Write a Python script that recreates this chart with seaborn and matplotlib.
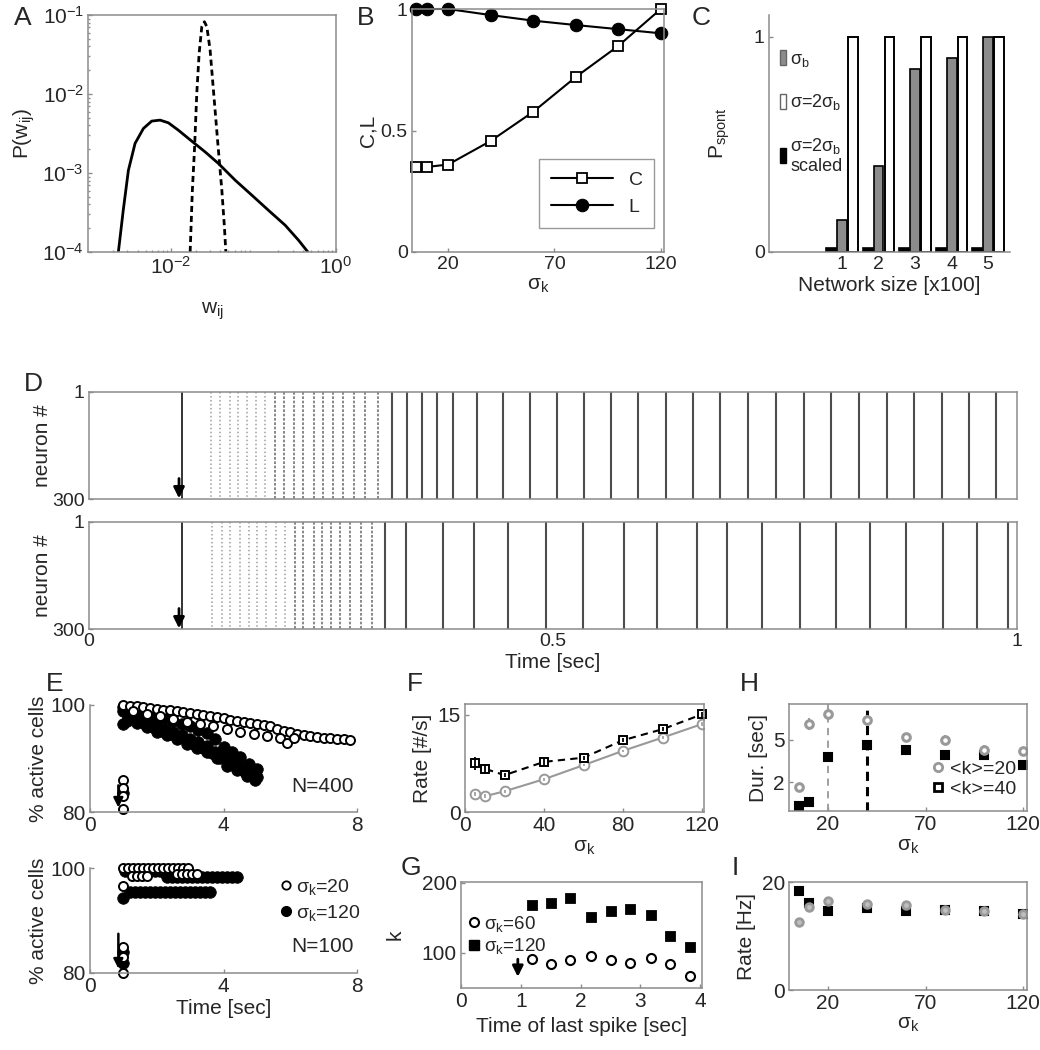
import matplotlib
matplotlib.use('Agg')
import matplotlib.pyplot as plt
import seaborn as sns
from matplotlib.patches import Patch
from matplotlib.lines import Line2D

sns.set_style('white')
plt.rcParams['font.family'] = ['Liberation Sans', 'DejaVu Sans']
plt.rcParams['mathtext.fontset'] = 'custom'
plt.rcParams['mathtext.rm'] = 'Liberation Sans'
plt.rcParams['mathtext.it'] = 'Liberation Sans:italic'
plt.rcParams['mathtext.default'] = 'regular'
plt.rcParams['axes.labelsize'] = 15

# ---- data ----
# A: weight distributions
a_solid_w = [2.33e-3, 2.67e-3, 3.08e-3, 3.71e-3, 4.68e-3, 5.90e-3, 7.45e-3, 9.38e-3, 1.24e-2,
             1.80e-2, 2.61e-2, 3.78e-2, 6.03e-2, 9.59e-2, 0.152, 0.243, 0.352, 0.457]
a_solid_p = [1.0e-4, 3.38e-4, 1.08e-3, 2.37e-3, 3.66e-3, 4.54e-3, 4.67e-3, 4.32e-3, 3.48e-3,
             2.53e-3, 1.85e-3, 1.32e-3, 8.11e-4, 5.24e-4, 3.38e-4, 2.18e-4, 1.41e-4, 1.0e-4]
a_dash_w = [0.0172, 0.0177, 0.0183, 0.0194, 0.0207, 0.0221, 0.0238, 0.0256, 0.0274, 0.0300,
            0.0329, 0.0372, 0.0416, 0.0447, 0.0465]
a_dash_p = [1.0e-4, 2.29e-4, 6.05e-4, 1.95e-3, 1.02e-2, 3.27e-2, 7.11e-2, 8.22e-2, 7.11e-2,
            3.60e-2, 1.12e-2, 2.37e-3, 6.05e-4, 2.07e-4, 1.0e-4]

# B: clustering C and path length L vs sigma_k
sigma_k = [5, 10, 20, 40, 60, 80, 100, 120]
b_C = [0.35, 0.35, 0.36, 0.457, 0.577, 0.72, 0.848, 1.0]
b_L = [1.0, 1.0, 1.0, 0.975, 0.952, 0.934, 0.917, 0.90]

# C: probability of spontaneous activity
net_size = [1, 2, 3, 4, 5]
c_sigb = [0.15, 0.40, 0.85, 0.90, 1.0]
c_2sigb = [1.0, 1.0, 1.0, 1.0, 1.0]
c_scaled = [0.02, 0.02, 0.02, 0.02, 0.02]

# D: burst times in the rasters [sec]
stim_t = 0.1
d1_diffuse = [0.132, 0.141, 0.152, 0.161, 0.170, 0.180, 0.190]
d1_partial = [0.200, 0.210, 0.221, 0.231, 0.242, 0.252, 0.263, 0.274, 0.286, 0.297, 0.311]
d1_sync = [0.326, 0.343, 0.359, 0.375, 0.392, 0.418, 0.446, 0.475, 0.504, 0.533, 0.563,
           0.592, 0.622, 0.651, 0.680, 0.710, 0.740, 0.770, 0.800, 0.830, 0.860, 0.889,
           0.919, 0.948, 0.977]
d2_diffuse = [0.133, 0.143, 0.152, 0.163, 0.172, 0.181, 0.191, 0.202, 0.211]
d2_partial = [0.222, 0.231, 0.242, 0.251, 0.261, 0.270, 0.281, 0.293, 0.305]
d2_sync = [0.319, 0.342, 0.381, 0.415, 0.451, 0.492, 0.532, 0.577, 0.612, 0.655, 0.688,
           0.725, 0.766, 0.805, 0.842, 0.880, 0.920, 0.957, 0.990]

# E: % active cells vs time, N=400
e400_open_t = [1.0, 1.2, 1.4, 1.6, 1.8, 2.0, 2.2, 2.4, 2.6, 2.8, 3.0, 3.2, 3.4, 3.6, 3.8, 4.0,
               4.2, 4.4, 4.6, 4.8, 5.0, 5.2, 5.4, 5.6, 5.8, 6.0, 6.2, 6.4, 6.6, 6.8, 7.0, 7.2,
               7.4, 7.6, 7.8,
               1.3, 1.7, 2.1, 2.5, 2.9, 3.3, 3.7, 4.1, 4.5, 4.9, 5.3, 5.7, 5.9, 6.1,
               1.0, 1.0, 1.0, 1.0]
e400_open_v = [100.0, 99.9, 99.8, 99.6, 99.5, 99.3, 99.1, 99.0, 98.8, 98.6, 98.5, 98.3, 98.1,
               97.9, 97.7, 97.5, 97.2, 97.0, 96.8, 96.6, 96.4, 96.2, 96.0, 95.6, 95.2, 95.0,
               94.6, 94.3, 94.2, 94.0, 93.9, 93.8, 93.7, 93.6, 93.5,
               98.9, 98.4, 97.9, 97.4, 96.9, 96.5, 96.1, 95.6, 95.0, 94.6, 94.2, 93.9, 92.9, 93.8,
               86.0, 84.5, 83.0, 80.5]
e400_fill_t = [1.0, 1.25, 1.5, 1.75, 2.0, 2.25, 2.5, 2.75, 3.0, 3.25, 3.5, 3.75, 4.0, 4.25, 4.5,
               4.75, 5.0,
               1.0, 1.25, 1.5, 1.75, 2.0, 2.25, 2.5, 2.75, 3.0, 3.25, 3.5, 3.75, 4.0, 4.25, 4.5,
               4.75, 5.0,
               1.1, 1.4, 1.7, 2.0, 2.3, 2.6, 2.9, 3.2, 3.5, 3.8, 4.1, 4.4, 4.7, 4.95,
               1.15, 1.4, 1.65, 1.9, 2.15, 2.4, 2.65, 2.9, 3.15, 3.4, 3.65, 3.9, 4.15, 4.4,
               4.65, 4.9,
               1.0, 1.0]
e400_fill_v = [99.6, 99.3, 98.9, 98.5, 98.0, 97.5, 97.0, 96.5, 96.0, 95.4, 94.8, 93.6, 92.2,
               91.2, 90.2, 89.0, 88.0,
               98.8, 98.3, 97.7, 97.0, 96.3, 95.6, 95.0, 94.3, 93.7, 93.0, 92.3, 91.2, 90.0,
               89.2, 88.4, 87.5, 86.5,
               97.0, 96.6, 95.8, 95.0, 94.3, 93.6, 92.8, 92.0, 91.2, 90.0, 88.6, 87.8, 86.8, 86.0,
               98.0, 97.2, 96.5, 95.9, 95.2, 94.6, 93.9, 93.3, 92.6, 91.9, 91.0, 90.0, 89.2,
               88.3, 87.4, 86.6,
               96.5, 83.5]

# E: N=100
e100_open_t = [1.0, 1.15, 1.3, 1.45, 1.6, 1.75, 1.9, 2.05, 2.2, 2.35, 2.5, 2.65, 2.8, 2.95,
               1.25, 1.4, 1.55, 1.7, 2.6, 2.75, 2.9, 3.05, 3.2, 1.0, 1.0, 1.0, 1.0]
e100_open_v = [100.0] * 14 + [98.5] * 4 + [98.8] * 5 + [96.5, 85.0, 83.0, 80.0]
e100_fill_t = [1.05, 1.2, 1.35, 1.5, 1.65, 1.8, 1.95, 2.1, 2.25, 2.4,
               2.3, 2.45, 2.6, 2.75, 2.9, 3.05, 3.2, 3.35, 3.5, 3.65, 3.8, 3.95, 4.1, 4.25, 4.4,
               1.2, 1.35, 1.5, 1.65, 1.8, 1.95, 2.1, 2.25, 2.4, 2.55, 2.7, 2.85, 3.0, 3.15, 3.3,
               3.45, 3.6, 1.0, 1.0, 1.0]
e100_fill_v = [99.5] * 10 + [98.3] * 15 + [95.4] * 17 + [94.3, 84.0, 82.0]

# F: rate vs sigma_k
f_gray = [2.85, 2.43, 3.2, 5.07, 7.24, 9.46, 11.5, 13.6]
f_gray_err = [0.3, 0.3, 0.2, 0.2, 0.2, 0.2, 0.2, 0.3]
f_black = [7.5, 6.7, 5.7, 7.75, 8.4, 11.1, 12.8, 15.1]
f_black_err = [1.0, 0.7, 0.3, 0.6, 0.3, 0.3, 0.3, 0.4]

# G: mean degree of last-spiking neurons
g_t = [1.18, 1.5, 1.83, 2.17, 2.5, 2.83, 3.17, 3.5, 3.83]
g_k60 = [91.5, 84.4, 90.5, 96.2, 90.5, 85.8, 92.9, 84.8, 67.8]
g_k120 = [168.4, 171.7, 177.9, 151.0, 160.3, 162.3, 153.8, 123.5, 108.0]

# H: duration vs sigma_k
h_k20 = [1.7, 6.1, 6.8, 6.4, 5.2, 5.0, 4.3, 4.2]
h_k20_err = [0.2, 0.4, 0.4, 0.3, 0.3, 0.3, 0.3, 0.3]
h_k40 = [0.35, 0.6, 3.8, 4.65, 4.3, 3.95, 3.9, 3.25]
h_crit_k20 = 20
h_crit_k40 = 40

# I: rate vs sigma_k
i_k20 = [12.6, 15.4, 16.5, 15.9, 15.7, 14.8, 14.6, 14.1]
i_k40 = [18.3, 16.1, 14.6, 15.2, 14.7, 14.8, 14.6, 14.1]

# ---- figure ----
W, H = 1040, 1050
fig = plt.figure(figsize=(W / 100, H / 100), dpi=100)


def pax(l, t, r, b):
    return fig.add_axes([l / W, 1 - b / H, (r - l) / W, (b - t) / H])


def style(ax, box=True):
    for side, sp in ax.spines.items():
        sp.set_color('0.55')
        sp.set_linewidth(1.1)
        if not box and side in ('top', 'right'):
            sp.set_visible(False)
    ax.tick_params(which='both', direction='in', length=3, width=1, color='0.55',
                   labelsize=14, pad=3, bottom=True, left=True)


def letter(x, y, s):
    fig.text(x / W, 1 - y / H, s, fontsize=19, ha='left', va='top')


# A
axA = pax(88, 15, 336, 252)
sns.lineplot(x=a_solid_w, y=a_solid_p, ax=axA, color='k', lw=2, sort=False, estimator=None)
sns.lineplot(x=a_dash_w, y=a_dash_p, ax=axA, color='k', lw=2, sort=False, estimator=None,
             linestyle=(0, (2.2, 1.4)))
axA.set_xscale('log')
axA.set_yscale('log')
axA.set_xlim(1e-3, 1)
axA.set_ylim(1e-4, 1e-1)
axA.set_xticks([1e-2, 1])
axA.set_yticks([1e-4, 1e-3, 1e-2, 1e-1])
style(axA)
axA.tick_params(which='major', labelsize=15)
axA.tick_params(which='minor', length=1.5)
axA.set_xlabel('w$_{ij}$', labelpad=16)
axA.set_ylabel('P(w$_{ij}$)')
letter(14, 6, 'A')

# B
axB = pax(412, 9, 664, 252)
sns.lineplot(x=sigma_k, y=b_C, ax=axB, color='k', lw=1.5, marker='s', ms=7, mfc='white',
             mec='k', mew=1.3, label='C', clip_on=False)
sns.lineplot(x=sigma_k, y=b_L, ax=axB, color='k', lw=1.5, marker='o', ms=9, mfc='k',
             mec='k', label='L', clip_on=False)
axB.set_xlim(3, 121.5)
axB.set_ylim(0, 1)
axB.set_xticks([20, 70, 120])
axB.set_yticks([0, 0.5, 1])
axB.set_yticklabels(['0', '0.5', '1'])
style(axB)
axB.set_xlabel('σ$_k$', labelpad=2)
axB.set_ylabel('C,L', labelpad=2)
axB.legend(loc='lower right', bbox_to_anchor=(1.0, 0.06), frameon=True, fancybox=False,
           edgecolor='0.5', fontsize=14, handlelength=3.2, borderpad=0.6)
letter(357, 6, 'B')

# C
axC = pax(769, 15, 1010, 252)
bw = 0.27
axC.bar([n - 0.3 for n in net_size], c_scaled, bw, color='k', edgecolor='k', lw=1.2)
axC.bar(net_size, c_sigb, bw, color='0.55', edgecolor='k', lw=1.2)
axC.bar([n + 0.3 for n in net_size], c_2sigb, bw, color='white', edgecolor='k', lw=1.4)
axC.set_xlim(-1, 5.6)
axC.set_ylim(0, 1.1)
axC.set_xticks(net_size)
axC.set_yticks([0, 1])
style(axC, box=False)
axC.tick_params(axis='x', length=0)
axC.set_xlabel('Network size [x100]', labelpad=2)
axC.set_ylabel('P$_{spont}$', labelpad=16)
handles = [Patch(facecolor='0.55', edgecolor='0.4'), Patch(facecolor='white', edgecolor='0.4'),
           Patch(facecolor='k', edgecolor='k')]
axC.legend(handles, ['σ$_b$', 'σ=2σ$_b$', 'σ=2σ$_b$\nscaled'], loc='upper left',
           bbox_to_anchor=(-0.02, 0.92), frameon=False, fontsize=13, handlelength=0.3,
           handleheight=0.9, handletextpad=0.25, labelspacing=1.3)
letter(692, 6, 'C')

# D
axD1 = pax(89, 392, 1017, 499)
axD2 = pax(89, 522, 1017, 629)
for ax, diffuse, partial, sync in [(axD1, d1_diffuse, d1_partial, d1_sync),
                                   (axD2, d2_diffuse, d2_partial, d2_sync)]:
    ax.vlines([stim_t], 1, 300, color='0.2', lw=1.4)
    ax.vlines(diffuse, 1, 300, color='0.62', lw=1.1, linestyles=(0, (1, 1.6)))
    ax.vlines(partial, 1, 300, color='0.45', lw=1.2, linestyles=(0, (1.6, 1.0)))
    ax.vlines(sync, 1, 300, color='0.3', lw=1.5)
    ax.set_xlim(0, 1)
    ax.set_ylim(300, 1)
    ax.set_yticks([1, 300])
    ax.set_xticks([0, 0.5, 1])
    style(ax)
    ax.tick_params(axis='x', length=0)
    ax.set_ylabel('neuron #', labelpad=0)
    ax.annotate('', xy=(stim_t - 0.003, 306), xytext=(stim_t - 0.003, 235),
                arrowprops=dict(arrowstyle='-|>', color='k', lw=2, mutation_scale=16),
                annotation_clip=False)
axD1.tick_params(labelbottom=False)
axD2.set_xticklabels(['0', '0.5', '1'])
axD2.set_xlabel('Time [sec]', labelpad=2)
letter(24, 372, 'D')

# E
axE1 = pax(90, 705, 357, 812)
axE2 = pax(90, 868, 357, 973)
for ax, ot, ov, ft, fv in [(axE1, e400_open_t, e400_open_v, e400_fill_t, e400_fill_v),
                           (axE2, e100_open_t, e100_open_v, e100_fill_t, e100_fill_v)]:
    sns.scatterplot(x=ft, y=fv, ax=ax, color='k', edgecolor='k', s=70, linewidth=0.5,
                    clip_on=False)
    ax.plot(ot, ov, ls='none', marker='o', ms=6.5, mfc='white', mec='k', mew=1.4,
            clip_on=False)
    ax.set_xlim(0, 8)
    ax.set_ylim(80, 100)
    ax.set_xticks([0, 4, 8])
    ax.set_yticks([80, 100])
    style(ax, box=False)
    ax.tick_params(labelsize=15)
    ax.set_ylabel('% active cells', labelpad=2)
axE1.annotate('', xy=(0.85, 80.3), xytext=(0.85, 85.5),
              arrowprops=dict(arrowstyle='-|>', color='k', lw=1.8, mutation_scale=14))
axE2.annotate('', xy=(0.85, 80.3), xytext=(0.85, 88.0),
              arrowprops=dict(arrowstyle='-|>', color='k', lw=1.8, mutation_scale=14))
axE1.text(7.9, 84.7, 'N=400', fontsize=15, ha='right', va='center')
axE2.text(7.9, 85.0, 'N=100', fontsize=15, ha='right', va='center')
axE2.set_xlabel('Time [sec]', labelpad=2)
e_handles = [Line2D([], [], ls='none', marker='o', ms=6, mfc='white', mec='k', mew=1.3),
             Line2D([], [], ls='none', marker='o', ms=7, mfc='k', mec='k')]
axE2.legend(e_handles, ['σ$_k$=20', 'σ$_k$=120'], loc='upper right',
            bbox_to_anchor=(1.08, 1.08), frameon=False, fontsize=14, handlelength=0.6,
            handletextpad=0.2, labelspacing=0.3)
letter(46, 672, 'E')

# F
axF = pax(465, 704, 704, 812)
sns.lineplot(x=sigma_k, y=f_gray, ax=axF, color='0.6', lw=1.5, marker='o', ms=7,
             mfc='white', mec='0.6', mew=1.4)
axF.errorbar(sigma_k, f_gray, yerr=f_gray_err, fmt='none', ecolor='0.6', lw=1.2)
sns.lineplot(x=sigma_k, y=f_black, ax=axF, color='k', lw=1.5, linestyle=(0, (3.5, 2.5)),
             marker='s', ms=6, mfc='white', mec='k', mew=1.4, clip_on=False)
axF.errorbar(sigma_k, f_black, yerr=f_black_err, fmt='none', ecolor='k', lw=1.3)
axF.set_xlim(0, 121)
axF.set_ylim(0, 16.7)
axF.set_xticks([0, 40, 80, 120])
axF.set_yticks([0, 15])
style(axF)
axF.tick_params(labelsize=15)
axF.set_xlabel('σ$_k$', labelpad=2)
axF.set_ylabel('Rate [#/s]', labelpad=4)
letter(407, 672, 'F')

# G
axG = pax(461, 882, 702, 988)
axG.plot(g_t, g_k60, ls='none', marker='o', ms=6.5, mfc='white', mec='k', mew=1.5)
sns.scatterplot(x=g_t, y=g_k120, ax=axG, marker='s', color='k', edgecolor='k', s=55)
axG.set_xlim(0, 4.03)
axG.set_ylim(50, 201)
axG.set_xticks([0, 1, 2, 3, 4])
axG.set_yticks([100, 200])
style(axG)
axG.tick_params(labelsize=15)
axG.set_xlabel('Time of last spike [sec]')
axG.set_ylabel('k', labelpad=12)
axG.annotate('', xy=(0.95, 62), xytext=(0.95, 95),
             arrowprops=dict(arrowstyle='-|>', color='k', lw=2, mutation_scale=16))
g_handles = [Line2D([], [], ls='none', marker='o', ms=6.5, mfc='white', mec='k', mew=1.5),
             Line2D([], [], ls='none', marker='s', ms=7, mfc='k', mec='k')]
axG.legend(g_handles, ['σ$_k$=60', 'σ$_k$=120'], loc='center left',
           bbox_to_anchor=(-0.04, 0.5), frameon=False, fontsize=13.5, handlelength=0.6,
           handletextpad=0.25, labelspacing=0.15)
letter(401, 856, 'G')

# H
axH = pax(789, 704, 1027, 811)
axH.axvline(h_crit_k20, color='0.6', ls=(0, (4, 3)), lw=1.3)
axH.axvline(h_crit_k40, color='k', ls=(0, (3, 2)), lw=2.2)
axH.errorbar(sigma_k, h_k20, yerr=h_k20_err, fmt='o', ms=5.5, mfc='white', mec='0.6',
             mew=2.2, ecolor='0.6', elinewidth=1.5)
axH.plot(sigma_k, h_k40, ls='none', marker='s', ms=6, mfc='k', mec='k', mew=1.5)
axH.set_xlim(0, 122)
axH.set_ylim(0, 7.5)
axH.set_xticks([20, 70, 120])
axH.set_yticks([2, 5])
style(axH)
axH.tick_params(labelsize=15)
axH.set_xlabel('σ$_k$', labelpad=2)
axH.set_ylabel('Dur. [sec]', labelpad=4)
h_handles = [Line2D([], [], ls='none', marker='o', ms=6, mfc='white', mec='0.6', mew=2),
             Line2D([], [], ls='none', marker='s', ms=5.5, mfc='white', mec='k', mew=2)]
axH.legend(h_handles, ['<k>=20', '<k>=40'], loc='lower right', bbox_to_anchor=(1.03, -0.04),
           frameon=False, fontsize=14, handlelength=0.7, handletextpad=0.3, labelspacing=0.1)
letter(740, 672, 'H')

# I
axI = pax(789, 882, 1027, 990)
axI.plot(sigma_k, i_k40, ls='none', marker='s', ms=6, mfc='k', mec='k', mew=1.5)
axI.plot(sigma_k, i_k20, ls='none', marker='o', ms=5.5, mfc='0.75', mec='0.6', mew=2)
axI.set_xlim(0, 122)
axI.set_ylim(0, 20)
axI.set_xticks([20, 70, 120])
axI.set_yticks([0, 20])
style(axI)
axI.tick_params(labelsize=15)
axI.set_xlabel('σ$_k$', labelpad=1)
axI.set_ylabel('Rate [Hz]', labelpad=4)
letter(732, 856, 'I')

fig.savefig('out.png', dpi=100)
